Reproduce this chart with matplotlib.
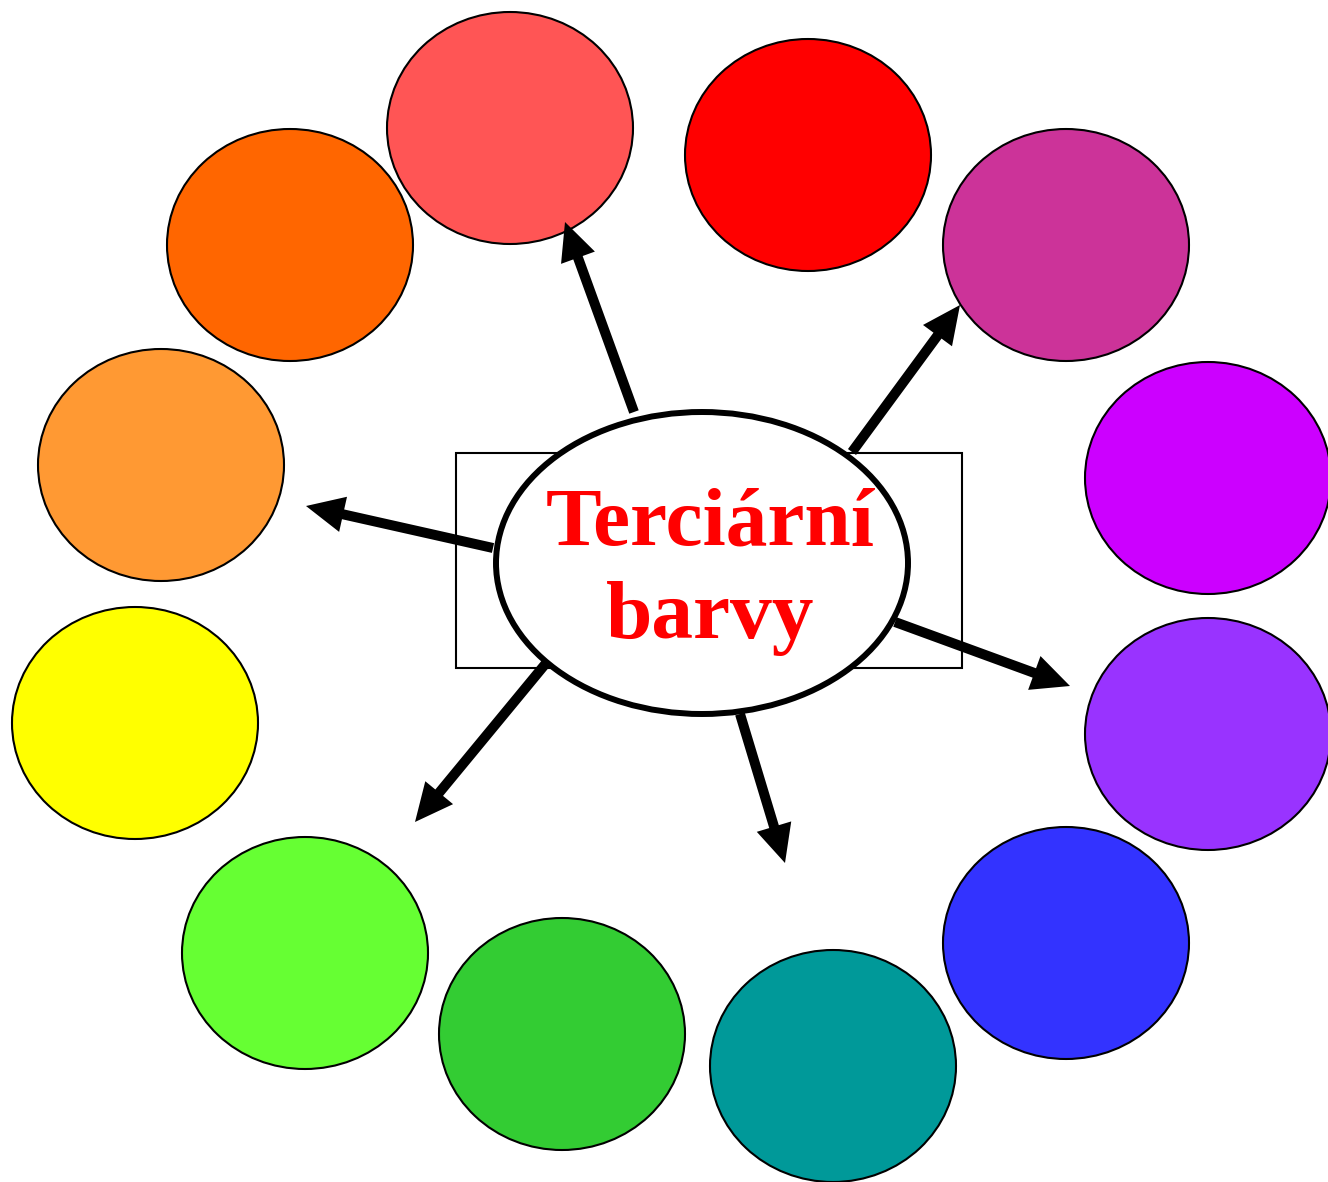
import matplotlib
matplotlib.use("Agg")
import matplotlib.pyplot as plt
from matplotlib.patches import Ellipse, Rectangle, FancyArrow

# Barevné kruhy (střed x, střed y v pixelech, barva)
kruhy_x = [510, 808, 1066, 1208, 1208, 1066, 833, 562, 305, 135, 161, 290]
kruhy_y = [128, 155, 245, 478, 734, 943, 1066, 1034, 953, 723, 465, 245]
kruhy_barvy = ["#FF5555", "#FF0000", "#CC3399", "#CC00FF", "#9933FF", "#3333FF",
               "#009999", "#33CC33", "#66FF33", "#FFFF00", "#FF9933", "#FF6600"]

# Šipky ze středu (začátek -> hrot)
sipky_start = [(634, 412), (852, 452), (493, 548), (895, 622), (547, 662), (740, 714)]
sipky_hrot = [(565, 222), (960, 305), (306, 506), (1070, 686), (415, 822), (785, 863)]

nadpis = ["Terciární", "barvy"]

fig = plt.figure(figsize=(13.28, 11.82), dpi=100)
ax = fig.add_axes([0, 0, 1, 1])
ax.set_xlim(0, 1328)
ax.set_ylim(1182, 0)
ax.axis("off")

for x, y, c in zip(kruhy_x, kruhy_y, kruhy_barvy):
    ax.add_patch(Ellipse((x, y), 246, 232, facecolor=c, edgecolor="black", lw=1.5, zorder=2))

ax.add_patch(Rectangle((456, 453), 506, 215, fill=False, edgecolor="black", lw=1.5, zorder=3))

for (x0, y0), (x1, y1) in zip(sipky_start, sipky_hrot):
    ax.add_patch(FancyArrow(x0, y0, x1 - x0, y1 - y0, width=10, head_width=36, head_length=38,
                            length_includes_head=True, color="black", lw=0, zorder=4))

ax.add_patch(Ellipse((702, 563), 412, 302, facecolor="white", edgecolor="black", lw=4.3, zorder=5))

ax.text(710, 544, nadpis[0], color="#FF0000", fontsize=60, fontweight="bold",
        family=["Liberation Serif", "DejaVu Serif"], ha="center", va="baseline", zorder=6)
ax.text(710, 638, nadpis[1], color="#FF0000", fontsize=60, fontweight="bold",
        family=["Liberation Serif", "DejaVu Serif"], ha="center", va="baseline", zorder=6)

fig.savefig("out.png", dpi=100)
